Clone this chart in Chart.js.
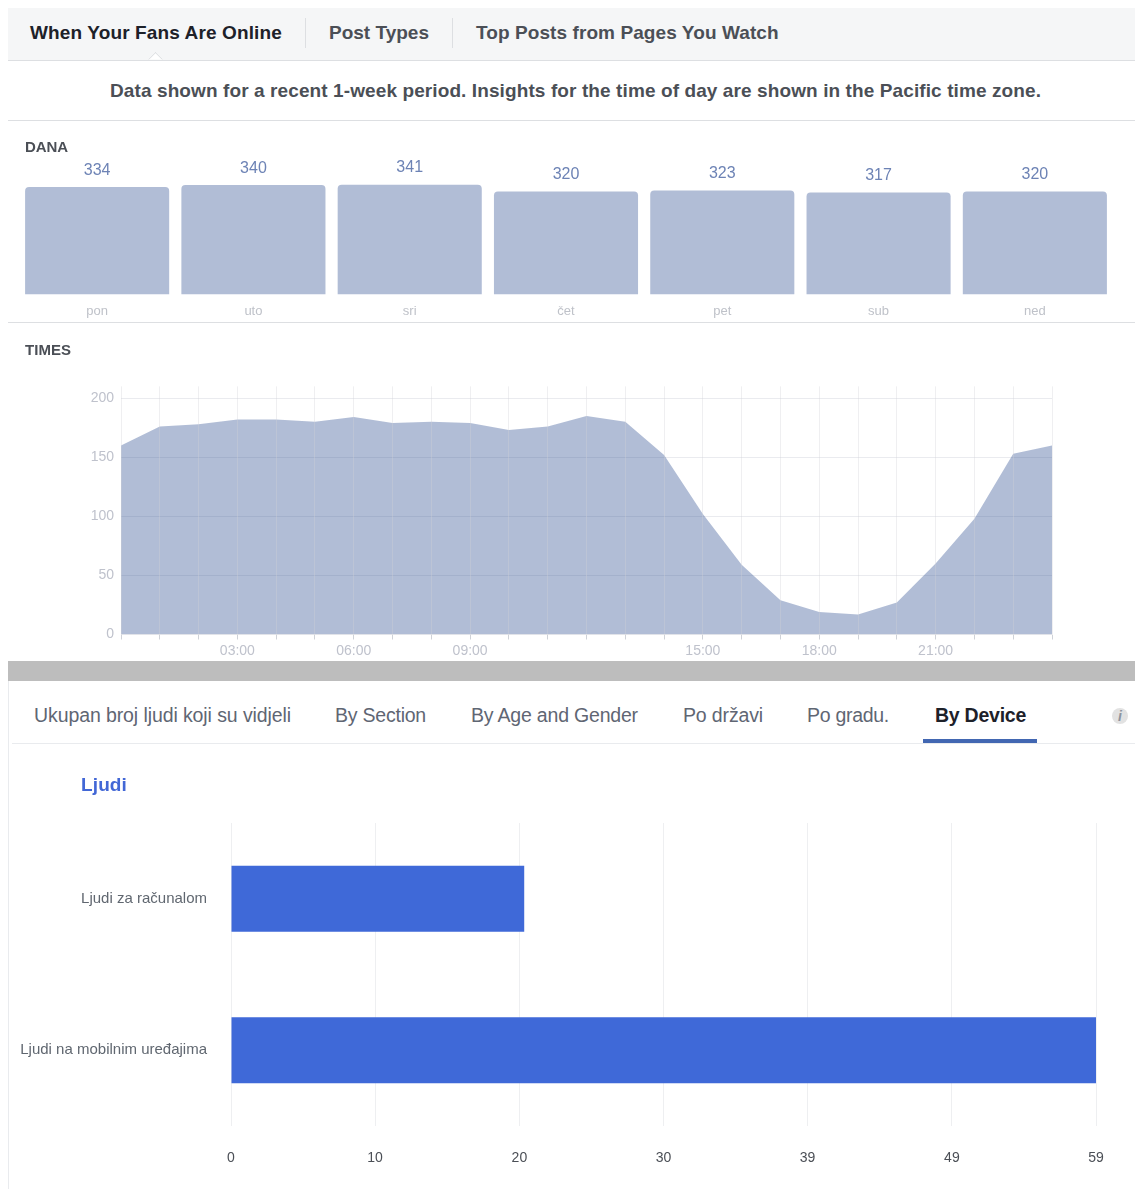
<!DOCTYPE html>
<html><head><meta charset="utf-8">
<style>
html,body{margin:0;padding:0;background:#fff;width:1135px;height:1189px;overflow:hidden;font-family:"Liberation Sans",Arial,sans-serif}
.r{position:absolute}
.t{position:absolute;white-space:nowrap;line-height:1}
canvas{position:absolute}
</style></head><body>
<div class="r" style="left:8px;top:8px;width:1127px;height:52px;background:#f5f6f7"></div>
<div class="r" style="left:8px;top:60px;width:1127px;height:1px;background:#dddfe2"></div>
<div class="r" style="left:150px;top:54px;width:10px;height:10px;background:#fff;border-left:1px solid #dddfe2;border-top:1px solid #dddfe2;transform:rotate(45deg);clip-path:polygon(0 0,100% 0,0 100%)"></div>
<div class="r" style="left:305px;top:18px;width:1px;height:30px;background:#dddfe2"></div>
<div class="r" style="left:452px;top:18px;width:1px;height:30px;background:#dddfe2"></div>
<div class="r" style="left:8px;top:120px;width:1127px;height:1px;background:#dddfe2"></div>
<div class="r" style="left:8px;top:322px;width:1127px;height:1px;background:#dddfe2"></div>
<div class="r" style="left:8px;top:661px;width:1127px;height:20px;background:#bdbdbd"></div>
<div class="r" style="left:8px;top:681px;width:1px;height:508px;background:#e9ebee"></div>
<div class="r" style="left:12px;top:743px;width:1123px;height:1px;background:#e9ebee"></div>
<div class="r" style="left:923px;top:739px;width:114px;height:4px;background:#4267b2"></div>
<div class="r" style="left:1112px;top:708px;width:16px;height:16px;border-radius:50%;background:#e2e2e2"></div>
<canvas id="days" class="c" style="left:19px;top:150px" width="1094" height="170"></canvas>
<canvas id="times" style="left:60px;top:371px;clip-path:inset(4px 0 0 0)" width="1022" height="289"></canvas>
<canvas id="device" style="left:0;top:790px" width="1135" height="399"></canvas>
<script src="https://cdn.jsdelivr.net/npm/chart.js@4"></script>
<script>
const dayLabels = ['pon','uto','sri','čet','pet','sub','ned'];
const dayValues = [334,340,341,320,323,317,320];
const hourLabels = ['','','','03:00','','','06:00','','','09:00','','','','','','15:00','','','18:00','','','21:00','','',''];
const hourValues = [160,176,178,182,182,180,184,179,180,179,173,176,185,180,152,102,59,29,19,17,27,60,98,153,160];
const hourTicks = [0,50,100,150,200];
const deviceLabels = ['Ljudi za računalom','Ljudi na mobilnim uređajima'];
const deviceValues = [20,59];
const deviceTicks = [0,9.83,19.67,29.5,39.33,49.17,59];
const deviceTickLabels = ['0','10','20','30','39','49','59'];

const sans = '"Liberation Sans", Arial, sans-serif';
const mc = document.createElement('canvas').getContext('2d');
function text(str,left,cy,width,size,weight,color,style){
  const s=document.createElement('span');s.className='t';s.textContent=str;
  mc.font=(style||'')+' '+weight+' '+size+'px '+sans;
  const ls=(width-mc.measureText(str).width)/str.length;
  s.style.cssText='left:'+left+'px;top:'+(cy-size/2-0.5)+'px;font-size:'+size+'px;font-weight:'+weight+';color:'+color+';letter-spacing:'+ls.toFixed(3)+'px;'+(style?'font-style:'+style:'');
  document.body.appendChild(s);
}
text('When Your Fans Are Online',30,33,253,19,700,'#1d2129');
text('Post Types',329,33,100,19,700,'#4b4f56');
text('Top Posts from Pages You Watch',476,33,303,19,700,'#4b4f56');
text('Data shown for a recent 1-week period. Insights for the time of day are shown in the Pacific time zone.',110,91,931,19,700,'#4b4f56');
text('DANA',25,147,43,15,700,'#4b4f56');
text('TIMES',25,350,46,15,700,'#4b4f56');
text('Ukupan broj ljudi koji su vidjeli',34,716,257,19.5,400,'#5f6673');
text('By Section',335,716,91,19.5,400,'#5f6673');
text('By Age and Gender',471,716,168,19.5,400,'#5f6673');
text('Po državi',683,716,80,19.5,400,'#5f6673');
text('Po gradu.',807,716,82,19.5,400,'#5f6673');
text('By Device',935,716,91,19.5,700,'#1d2129');
text('i',1118,716,4,14,700,'#8d949e','italic');
text('Ljudi',81,785,46,19,700,'#4267d6');

Chart.defaults.font.family = sans;
Chart.defaults.animation = false;
const base = {responsive:false,animation:false,plugins:{legend:{display:false},tooltip:{enabled:false}}};

const valueLabels = {id:'valueLabels',afterDatasetsDraw(ch){
  const c=ch.ctx,m=ch.getDatasetMeta(0);
  c.save();c.font='16px '+sans;c.fillStyle='#6d83b5';c.textAlign='center';c.textBaseline='middle';
  m.data.forEach((b,i)=>c.fillText(String(dayValues[i]),b.x,b.y-16.8));
  c.restore();
}};
new Chart(document.getElementById('days'),{type:'bar',plugins:[valueLabels],
  data:{labels:dayLabels,datasets:[{data:dayValues,backgroundColor:'#b1bdd6',barPercentage:0.922,categoryPercentage:1,
    borderRadius:{topLeft:4,topRight:4,bottomLeft:0,bottomRight:0},borderSkipped:false}]},
  options:{...base,layout:{padding:0},scales:{
    x:{afterFit:s=>{s.height=25.5},grid:{display:false},border:{display:false},ticks:{color:'#bfc2c9',font:{size:13},padding:1,maxRotation:0}},
    y:{display:false,min:0,max:449}}}});

new Chart(document.getElementById('times'),{type:'line',
  data:{labels:hourLabels,datasets:[{data:hourValues,fill:'origin',backgroundColor:'rgba(59,89,152,0.4)',borderWidth:0,pointRadius:0,tension:0}]},
  options:{...base,layout:{padding:{top:0,right:30,left:0,bottom:0}},scales:{
    x:{offset:false,afterFit:s=>{s.height=25.5},grid:{z:1,color:'rgba(210,210,215,0.35)',tickColor:'#cfd2d8',tickLength:5,drawOnChartArea:true},border:{display:false},
       ticks:{color:'#bfc2cc',font:{size:14},padding:3,autoSkip:false,maxRotation:0}},
    y:{min:0,max:210,afterFit:s=>{s.width=61},afterBuildTicks:a=>{a.ticks=hourTicks.map(v=>({value:v}))},grid:{color:'#eaebef',drawTicks:false},border:{display:false},
       ticks:{color:'#bfc2cc',font:{size:14},padding:7}}}}});

new Chart(document.getElementById('device'),{type:'bar',
  data:{labels:deviceLabels,datasets:[{data:deviceValues,backgroundColor:'#3f69d8',barPercentage:0.437,categoryPercentage:1}]},
  options:{...base,indexAxis:'y',layout:{padding:{top:8,right:39,left:0,bottom:0}},scales:{
    x:{min:0,max:59,afterFit:s=>{s.height=63},afterBuildTicks:a=>{a.ticks=deviceTicks.map(v=>({value:v}))},
       grid:{color:'#eeeff1',drawTicks:false},border:{display:false},
       ticks:{color:'#4b4f56',font:{size:14},padding:24,autoSkip:false,maxRotation:0,callback:(v,i)=>deviceTickLabels[i]}},
    y:{afterFit:s=>{s.width=231},grid:{display:false,drawTicks:false},border:{display:false},
       ticks:{color:'#606770',font:{size:15},padding:24,autoSkip:false}}}}});
</script>
</body></html>
